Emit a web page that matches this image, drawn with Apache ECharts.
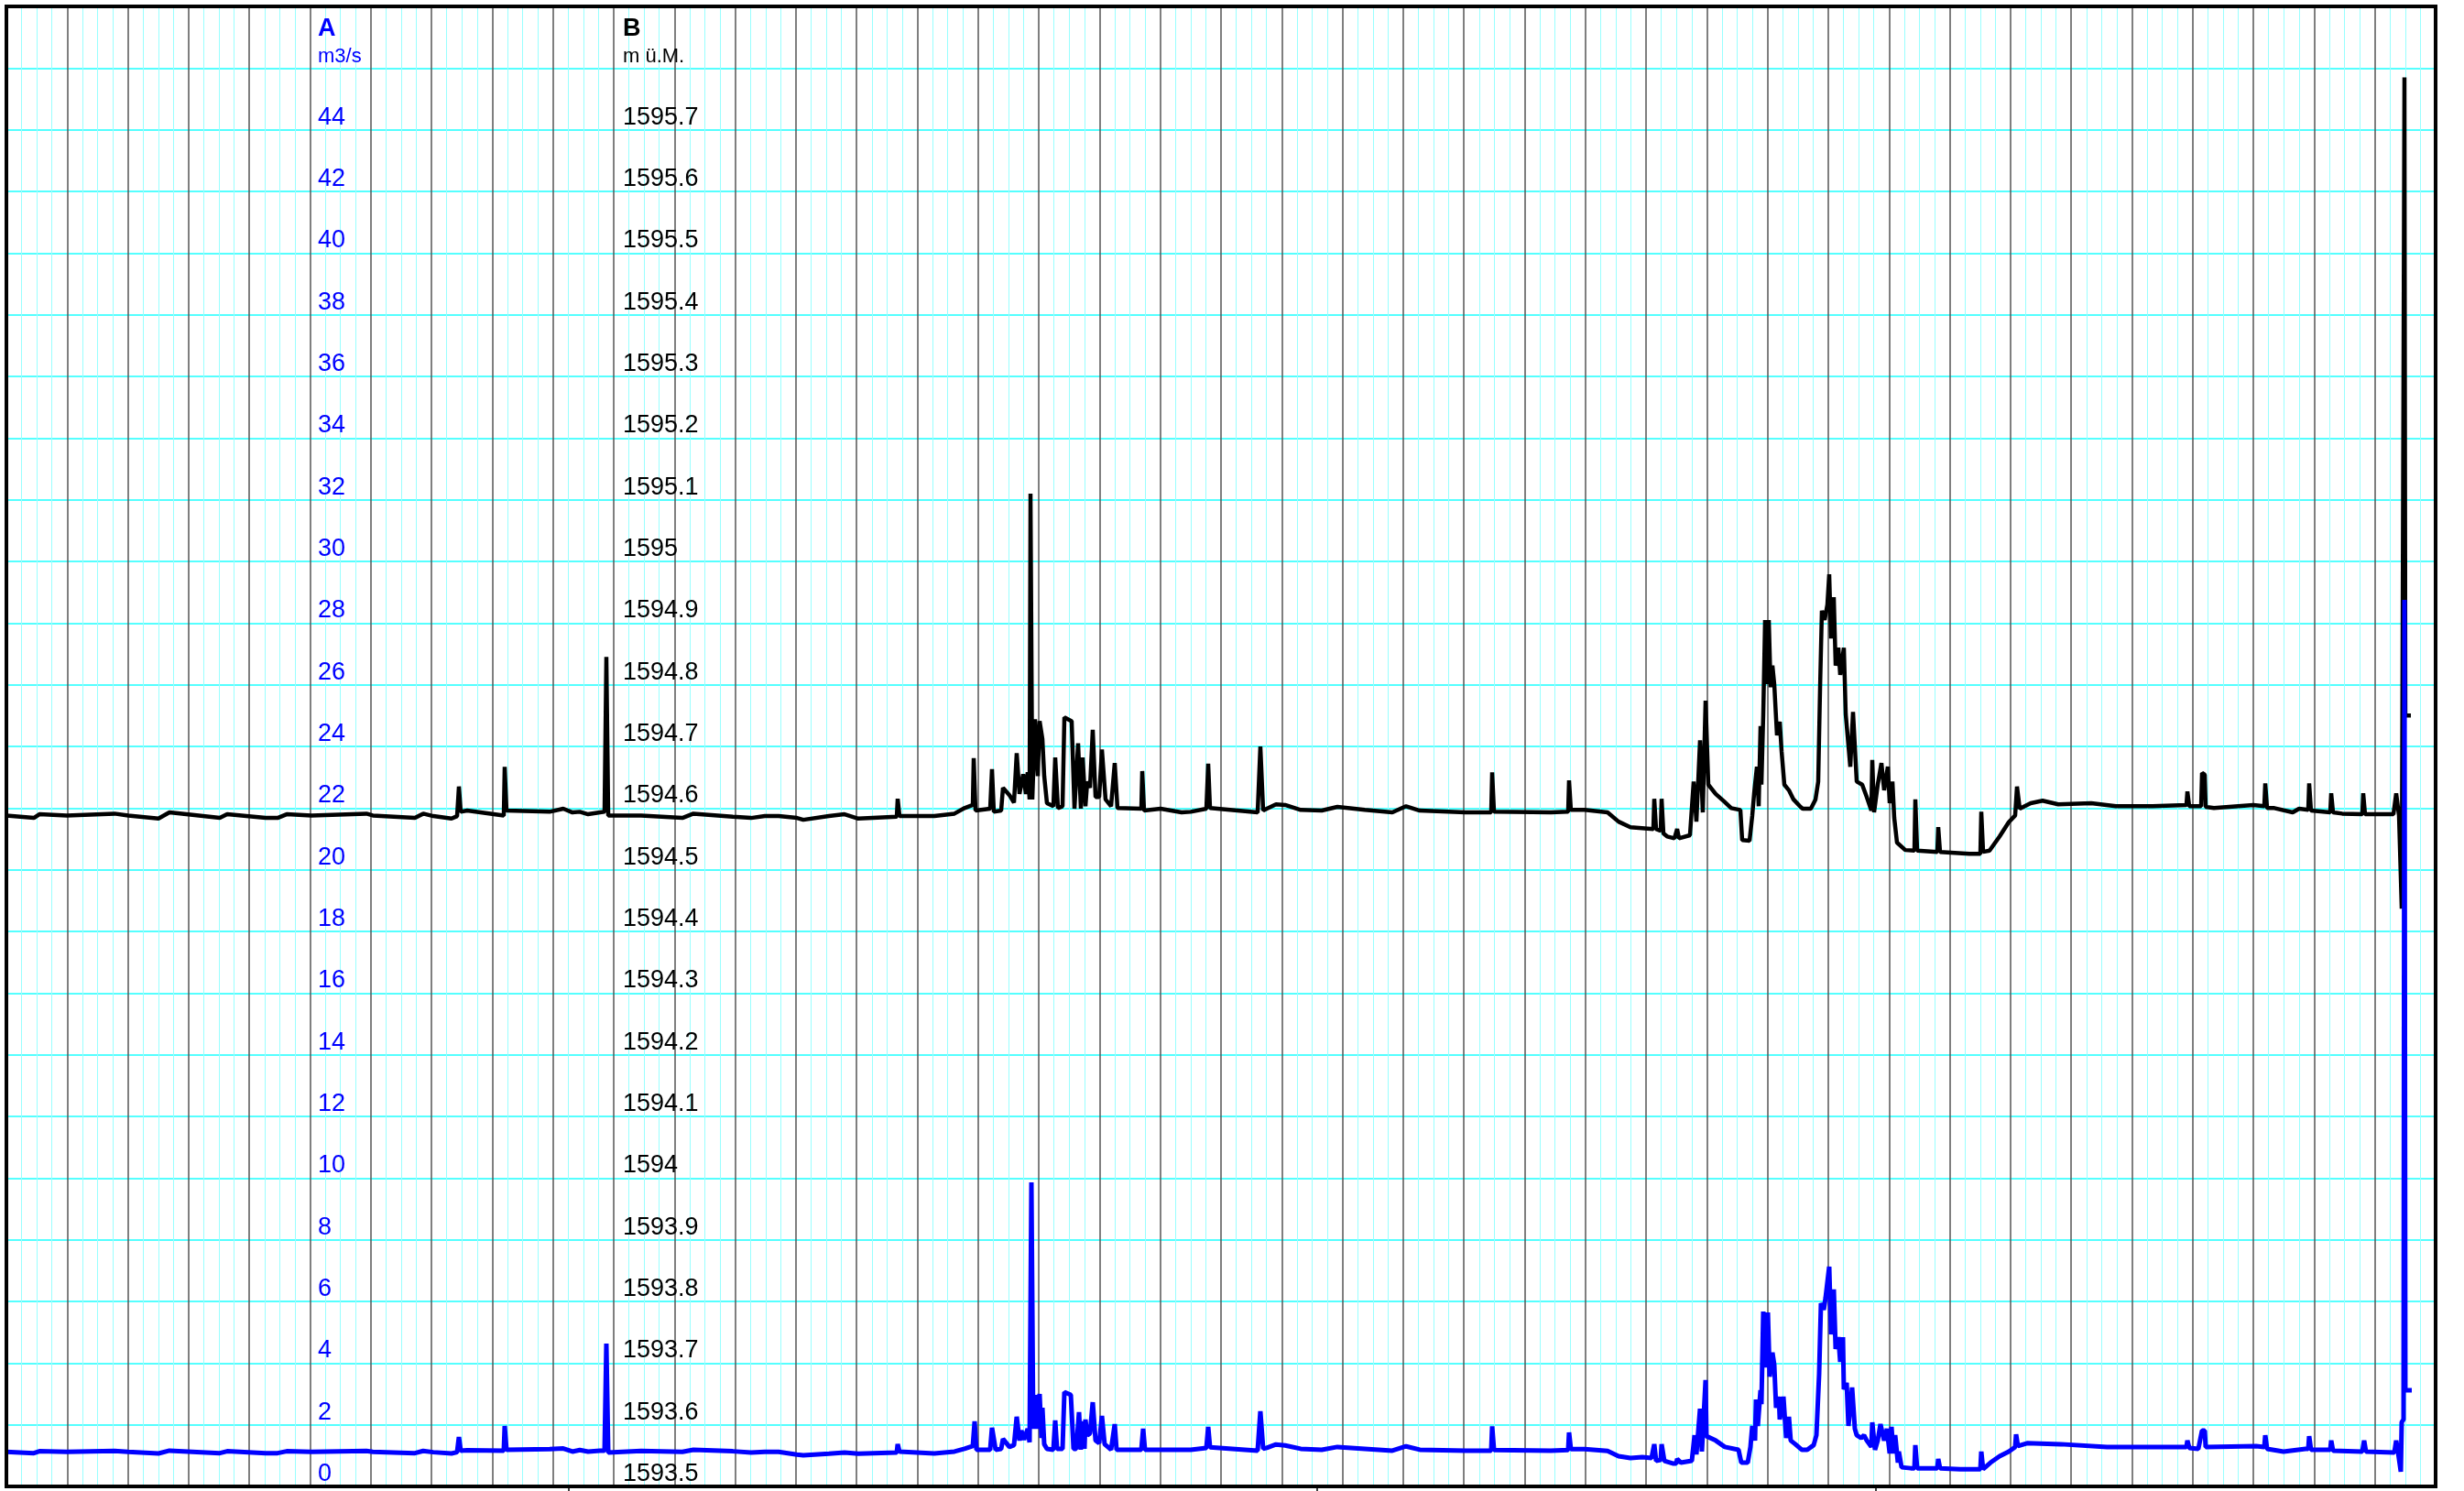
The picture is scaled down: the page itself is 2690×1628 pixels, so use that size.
<!DOCTYPE html>
<html>
<head>
<meta charset="utf-8">
<title>A / B</title>
<script src="https://cdn.jsdelivr.net/npm/echarts@6/dist/echarts.min.js"></script>
<style>
  html, body { margin: 0; padding: 0; background: #fff; }
  #chart { width: 2690px; height: 1628px; }
</style>
</head>
<body>
<div id="chart"></div>
<script>
  // x = Zeit in Tagen (40 Hauptraster), B = Wasserstand m ü.M., A = Abfluss m3/s
  var levelB = [
    [0, 1594.588], [0.452, 1594.584], [0.543, 1594.590], [0.995, 1594.588], [1.780, 1594.591],
    [2.006, 1594.588], [2.504, 1594.583], [2.685, 1594.593], [3.514, 1594.584], [3.635, 1594.590],
    [4.268, 1594.584], [4.465, 1594.584], [4.615, 1594.590], [5.023, 1594.588], [5.928, 1594.591],
    [6.033, 1594.588], [6.727, 1594.584], [6.863, 1594.591], [7.029, 1594.587], [7.330, 1594.583],
    [7.421, 1594.587], [7.451, 1594.635], [7.481, 1594.594], [7.587, 1594.596], [8.190, 1594.588],
    [8.205, 1594.667], [8.235, 1594.596], [8.944, 1594.594], [9.170, 1594.599], [9.321, 1594.593],
    [9.442, 1594.594], [9.578, 1594.590], [9.774, 1594.593], [9.849, 1594.594], [9.879, 1594.845],
    [9.910, 1594.588], [10.452, 1594.588], [11.131, 1594.584], [11.312, 1594.591], [11.961, 1594.586],
    [12.262, 1594.584], [12.489, 1594.587], [12.715, 1594.587], [13.017, 1594.584], [13.122, 1594.581],
    [13.544, 1594.587], [13.801, 1594.590], [14.027, 1594.583], [14.661, 1594.586], [14.676, 1594.615],
    [14.706, 1594.587], [15.279, 1594.587], [15.611, 1594.591], [15.777, 1594.600], [15.913, 1594.605],
    [15.928, 1594.681], [15.958, 1594.596], [16.199, 1594.599], [16.229, 1594.663], [16.259, 1594.594],
    [16.380, 1594.596], [16.410, 1594.633], [16.516, 1594.621], [16.591, 1594.609], [16.636, 1594.689],
    [16.682, 1594.623], [16.742, 1594.655], [16.787, 1594.623], [16.817, 1594.658], [16.848, 1594.614],
    [16.863, 1595.110], [16.893, 1594.614], [16.938, 1594.744], [16.983, 1594.652], [17.013, 1594.741],
    [17.059, 1594.712], [17.089, 1594.652], [17.134, 1594.608], [17.240, 1594.603], [17.270, 1594.682],
    [17.315, 1594.600], [17.391, 1594.603], [17.421, 1594.747], [17.541, 1594.741], [17.587, 1594.599],
    [17.647, 1594.705], [17.692, 1594.599], [17.722, 1594.682], [17.768, 1594.603], [17.798, 1594.643],
    [17.843, 1594.633], [17.888, 1594.727], [17.934, 1594.618], [17.994, 1594.618], [18.039, 1594.695],
    [18.099, 1594.614], [18.190, 1594.603], [18.250, 1594.673], [18.295, 1594.600], [18.688, 1594.599],
    [18.703, 1594.660], [18.733, 1594.596], [19.005, 1594.599], [19.351, 1594.593], [19.502, 1594.594],
    [19.759, 1594.599], [19.789, 1594.672], [19.819, 1594.600], [20.603, 1594.593], [20.648, 1594.700],
    [20.694, 1594.596], [20.754, 1594.599], [20.905, 1594.606], [21.056, 1594.605], [21.312, 1594.597],
    [21.659, 1594.596], [21.916, 1594.602], [22.368, 1594.597], [22.821, 1594.593], [23.047, 1594.603],
    [23.273, 1594.596], [24.027, 1594.593], [24.449, 1594.593], [24.465, 1594.658], [24.495, 1594.594],
    [25.430, 1594.593], [25.716, 1594.594], [25.731, 1594.645], [25.761, 1594.597], [25.988, 1594.597],
    [26.365, 1594.593], [26.546, 1594.578], [26.742, 1594.569], [27.119, 1594.566], [27.134, 1594.615],
    [27.164, 1594.566], [27.240, 1594.563], [27.255, 1594.615], [27.285, 1594.559], [27.346, 1594.554],
    [27.466, 1594.551], [27.496, 1594.551], [27.511, 1594.566], [27.541, 1594.551], [27.722, 1594.556],
    [27.783, 1594.643], [27.828, 1594.578], [27.888, 1594.710], [27.933, 1594.593], [27.979, 1594.774],
    [28.024, 1594.638], [28.145, 1594.623], [28.281, 1594.611], [28.401, 1594.600], [28.552, 1594.597],
    [28.582, 1594.548], [28.703, 1594.547], [28.748, 1594.588], [28.778, 1594.623], [28.824, 1594.667],
    [28.854, 1594.603], [28.884, 1594.733], [28.899, 1594.638], [28.929, 1594.752], [28.959, 1594.905],
    [28.989, 1594.801], [29.020, 1594.905], [29.050, 1594.796], [29.080, 1594.831], [29.110, 1594.801],
    [29.155, 1594.718], [29.201, 1594.740], [29.231, 1594.692], [29.276, 1594.638], [29.351, 1594.629],
    [29.427, 1594.614], [29.532, 1594.603], [29.578, 1594.599], [29.713, 1594.599], [29.789, 1594.614],
    [29.834, 1594.643], [29.864, 1594.792], [29.894, 1594.920], [29.940, 1594.905], [29.985, 1594.930],
    [30.015, 1594.979], [30.045, 1594.875], [30.090, 1594.942], [30.121, 1594.831], [30.166, 1594.860],
    [30.196, 1594.816], [30.256, 1594.860], [30.287, 1594.752], [30.362, 1594.667], [30.407, 1594.756],
    [30.468, 1594.643], [30.558, 1594.638], [30.633, 1594.618], [30.709, 1594.596], [30.724, 1594.678],
    [30.754, 1594.593], [30.814, 1594.638], [30.875, 1594.673], [30.920, 1594.629], [30.980, 1594.667],
    [31.011, 1594.608], [31.056, 1594.643], [31.086, 1594.584], [31.131, 1594.544], [31.267, 1594.532],
    [31.418, 1594.531], [31.433, 1594.614], [31.463, 1594.531], [31.795, 1594.529], [31.810, 1594.569],
    [31.840, 1594.529], [32.323, 1594.526], [32.504, 1594.526], [32.519, 1594.594], [32.549, 1594.529],
    [32.655, 1594.531], [32.821, 1594.554], [32.971, 1594.577], [33.077, 1594.588], [33.107, 1594.635],
    [33.152, 1594.599], [33.333, 1594.608], [33.529, 1594.612], [33.786, 1594.606], [34.329, 1594.608],
    [34.736, 1594.603], [35.339, 1594.603], [35.897, 1594.605], [35.913, 1594.627], [35.943, 1594.603],
    [36.139, 1594.603], [36.154, 1594.657], [36.199, 1594.654], [36.214, 1594.602], [36.350, 1594.600],
    [36.998, 1594.605], [37.179, 1594.603], [37.195, 1594.640], [37.225, 1594.600], [37.345, 1594.600],
    [37.647, 1594.593], [37.752, 1594.599], [37.903, 1594.597], [37.918, 1594.640], [37.948, 1594.596],
    [38.265, 1594.593], [38.281, 1594.624], [38.311, 1594.593], [38.462, 1594.591], [38.793, 1594.590],
    [38.808, 1594.624], [38.838, 1594.590], [39.306, 1594.590], [39.351, 1594.624], [39.397, 1594.588],
    [39.442, 1594.437], [39.487, 1595.785], [39.502, 1594.750], [39.593, 1594.750]
  ];

  var flowA = [
    [0, 1.12], [0.452, 1.08], [0.543, 1.14], [0.995, 1.12], [1.780, 1.15], [2.006, 1.12],
    [2.504, 1.07], [2.685, 1.16], [3.514, 1.08], [3.635, 1.14], [4.268, 1.08], [4.465, 1.08],
    [4.615, 1.14], [5.023, 1.12], [5.928, 1.15], [6.033, 1.12], [6.727, 1.08], [6.863, 1.15],
    [7.029, 1.11], [7.330, 1.07], [7.421, 1.11], [7.451, 1.60], [7.481, 1.16], [7.587, 1.17],
    [8.190, 1.16], [8.205, 1.96], [8.235, 1.19], [8.944, 1.21], [9.170, 1.23], [9.321, 1.13],
    [9.442, 1.18], [9.578, 1.13], [9.774, 1.16], [9.849, 1.16], [9.879, 4.63], [9.910, 1.10],
    [10.452, 1.15], [11.131, 1.12], [11.312, 1.19], [11.961, 1.14], [12.262, 1.10], [12.489, 1.12],
    [12.715, 1.12], [13.017, 1.03], [13.122, 1.01], [13.544, 1.06], [13.801, 1.10], [14.027, 1.06],
    [14.661, 1.10], [14.676, 1.37], [14.706, 1.13], [15.279, 1.07], [15.611, 1.13], [15.777, 1.22],
    [15.913, 1.31], [15.943, 2.11], [15.973, 1.19], [16.199, 1.19], [16.229, 1.90], [16.289, 1.19],
    [16.380, 1.22], [16.410, 1.54], [16.456, 1.43], [16.516, 1.28], [16.591, 1.34], [16.636, 2.26],
    [16.682, 1.49], [16.712, 1.81], [16.757, 1.52], [16.817, 1.87], [16.848, 1.43], [16.878, 9.86],
    [16.908, 1.87], [16.954, 2.97], [16.983, 1.87], [17.013, 3.00], [17.044, 1.57], [17.059, 2.55],
    [17.089, 1.37], [17.134, 1.22], [17.240, 1.19], [17.270, 2.14], [17.300, 1.22], [17.391, 1.22],
    [17.421, 3.06], [17.527, 2.97], [17.572, 1.22], [17.617, 1.22], [17.662, 2.41], [17.692, 1.19],
    [17.722, 2.11], [17.752, 1.22], [17.768, 2.17], [17.798, 1.66], [17.843, 1.72], [17.888, 2.73],
    [17.934, 1.49], [17.994, 1.40], [18.039, 2.29], [18.084, 1.37], [18.190, 1.19], [18.250, 2.02],
    [18.280, 1.19], [18.688, 1.19], [18.718, 1.87], [18.748, 1.19], [19.502, 1.19], [19.759, 1.25],
    [19.789, 1.93], [19.819, 1.27], [20.603, 1.16], [20.648, 2.44], [20.694, 1.22], [20.754, 1.25],
    [20.905, 1.36], [21.056, 1.33], [21.312, 1.22], [21.659, 1.19], [21.916, 1.28], [22.368, 1.22],
    [22.821, 1.16], [23.047, 1.30], [23.273, 1.19], [24.027, 1.16], [24.449, 1.16], [24.465, 1.95],
    [24.495, 1.18], [25.430, 1.16], [25.716, 1.18], [25.731, 1.75], [25.761, 1.21], [25.988, 1.21],
    [26.365, 1.15], [26.546, 0.98], [26.742, 0.92], [26.938, 0.95], [27.089, 0.92], [27.119, 0.92],
    [27.134, 1.37], [27.164, 0.83], [27.240, 0.86], [27.255, 1.37], [27.300, 0.83], [27.451, 0.74],
    [27.496, 0.74], [27.511, 0.89], [27.572, 0.77], [27.753, 0.83], [27.798, 1.66], [27.828, 1.04],
    [27.888, 2.52], [27.918, 1.13], [27.979, 3.45], [27.994, 1.63], [28.145, 1.49], [28.296, 1.28],
    [28.522, 1.19], [28.567, 0.77], [28.673, 0.77], [28.718, 1.28], [28.748, 1.96], [28.793, 1.49],
    [28.809, 2.82], [28.839, 1.96], [28.884, 3.12], [28.899, 2.67], [28.929, 5.67], [28.959, 3.86],
    [29.005, 5.64], [29.035, 3.56], [29.080, 4.34], [29.110, 3.95], [29.140, 2.55], [29.186, 2.91],
    [29.201, 2.17], [29.261, 2.91], [29.306, 1.57], [29.351, 2.26], [29.381, 1.49], [29.457, 1.37],
    [29.562, 1.19], [29.653, 1.19], [29.759, 1.34], [29.804, 1.66], [29.849, 3.65], [29.879, 5.94],
    [29.925, 5.73], [29.955, 6.12], [30.015, 7.13], [30.045, 4.93], [30.090, 6.39], [30.121, 4.46],
    [30.166, 4.84], [30.196, 4.04], [30.241, 4.84], [30.256, 3.15], [30.302, 3.36], [30.332, 1.96],
    [30.392, 3.21], [30.437, 1.87], [30.468, 1.66], [30.543, 1.57], [30.588, 1.66], [30.633, 1.49],
    [30.709, 1.28], [30.724, 2.08], [30.769, 1.19], [30.814, 1.49], [30.859, 2.02], [30.920, 1.49],
    [30.965, 1.87], [31.011, 1.07], [31.041, 1.93], [31.071, 1.07], [31.101, 1.66], [31.146, 0.77],
    [31.161, 1.13], [31.207, 0.62], [31.357, 0.59], [31.418, 0.59], [31.433, 1.34], [31.463, 0.59],
    [31.795, 0.59], [31.810, 0.89], [31.840, 0.59], [32.172, 0.56], [32.504, 0.56], [32.519, 1.13],
    [32.549, 0.56], [32.670, 0.77], [32.821, 0.98], [32.971, 1.13], [33.077, 1.28], [33.092, 1.69],
    [33.122, 1.31], [33.273, 1.40], [33.831, 1.37], [34.590, 1.28], [35.897, 1.28], [35.913, 1.49],
    [35.943, 1.25], [36.093, 1.22], [36.154, 1.81], [36.199, 1.81], [36.214, 1.28], [37.044, 1.31],
    [37.179, 1.28], [37.195, 1.66], [37.225, 1.22], [37.496, 1.13], [37.858, 1.22], [37.903, 1.22],
    [37.918, 1.63], [37.948, 1.19], [38.265, 1.19], [38.281, 1.49], [38.311, 1.16], [38.793, 1.13],
    [38.823, 1.49], [38.853, 1.13], [39.321, 1.10], [39.351, 1.49], [39.382, 1.10], [39.427, 0.48],
    [39.442, 2.08], [39.472, 2.17], [39.487, 28.75], [39.502, 3.12], [39.608, 3.12]
  ];

  // kleine Striche unter dem Rahmen
  var bottomMarks = [9.26, 21.58, 30.78];

  var labelFont = 'Liberation Sans, Arial, Helvetica, sans-serif';

  var myChart = echarts.init(document.getElementById('chart'));
  var option = {
    animation: false,
    backgroundColor: '#fff',
    grid: {
      left: 7,
      top: 7,
      right: 31,
      bottom: 5,
      show: true,
      borderColor: '#000',
      borderWidth: 4,
      backgroundColor: 'transparent',
      z: 5
    },
    xAxis: [{
      type: 'value',
      min: 0,
      max: 40,
      interval: 1,
      axisLine: { show: false },
      axisTick: { show: false },
      axisLabel: { show: false },
      splitLine: { show: true, showMinLine: false, showMaxLine: false, lineStyle: { color: '#555', width: 1.5 } },
      minorTick: { show: false, splitNumber: 4 },
      minorSplitLine: { show: true, lineStyle: { color: '#99ffff', width: 1 } }
    }, {
      type: 'value',
      min: 0,
      max: 40,
      position: 'bottom',
      axisLine: { show: false },
      axisLabel: { show: false },
      splitLine: { show: false },
      axisTick: {
        show: true,
        inside: false,
        length: 6,
        customValues: bottomMarks,
        lineStyle: { color: '#000', width: 1.5 }
      }
    }],
    yAxis: [{
      // A  m3/s
      type: 'value',
      position: 'left',
      min: 0,
      max: 48,
      interval: 2,
      offset: -340,
      name: '{t|A}\n{u|m3/s}',
      nameLocation: 'end',
      nameGap: -10,
      nameTextStyle: {
        align: 'left',
        verticalAlign: 'top',
        rich: {
          t: { fontSize: 27, fontWeight: 'bold', color: '#0000ff', fontFamily: labelFont, lineHeight: 30, align: 'left' },
          u: { fontSize: 22, color: '#0000ff', fontFamily: labelFont, lineHeight: 30, align: 'left' }
        }
      },
      axisLine: { show: false },
      axisTick: { show: false },
      splitLine: { show: true, showMinLine: false, showMaxLine: false, lineStyle: { color: '#55ffff', width: 2 } },
      axisLabel: {
        inside: true,
        margin: 0,
        color: '#0000ff',
        fontSize: 27,
        fontFamily: labelFont,
        verticalAlign: 'bottom',
        padding: [0, 0, 0, 0],
        formatter: function (v) { return v > 44 ? '' : String(v); }
      }
    }, {
      // B  m ü.M.
      type: 'value',
      position: 'left',
      min: 1593.5,
      max: 1595.9,
      interval: 0.1,
      offset: -673,
      name: '{t|B}\n{u|m ü.M.}',
      nameLocation: 'end',
      nameGap: -10,
      nameTextStyle: {
        align: 'left',
        verticalAlign: 'top',
        rich: {
          t: { fontSize: 27, fontWeight: 'bold', color: '#000', fontFamily: labelFont, lineHeight: 30, align: 'left' },
          u: { fontSize: 22, color: '#000', fontFamily: labelFont, lineHeight: 30, align: 'left' }
        }
      },
      axisLine: { show: false },
      axisTick: { show: false },
      splitLine: { show: false },
      axisLabel: {
        inside: true,
        margin: 0,
        color: '#000',
        fontSize: 27,
        fontFamily: labelFont,
        verticalAlign: 'bottom',
        padding: [0, 0, 0, 0],
        formatter: function (v) { return v > 1595.75 ? '' : String(+v.toFixed(1)); }
      }
    }],
    series: [{
      name: 'B',
      type: 'line',
      xAxisIndex: 0,
      yAxisIndex: 1,
      data: levelB,
      showSymbol: false,
      lineStyle: { color: '#000', width: 4.5 },
      z: 3
    }, {
      name: 'A',
      type: 'line',
      xAxisIndex: 0,
      yAxisIndex: 0,
      data: flowA,
      showSymbol: false,
      lineStyle: { color: '#0000ff', width: 5 },
      z: 4
    }]
  };
  myChart.setOption(option);
  myChart.resize();
</script>
</body>
</html>
